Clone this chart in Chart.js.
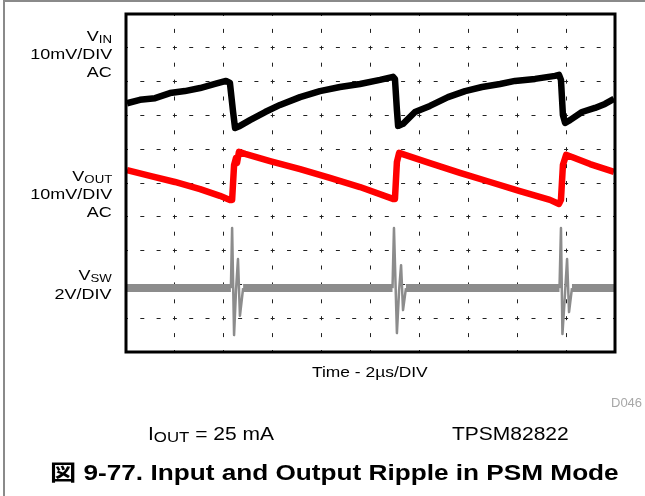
<!DOCTYPE html>
<html>
<head>
<meta charset="utf-8">
<script src="https://cdn.jsdelivr.net/npm/chart.js@4.4.0/dist/chart.umd.min.js"></script>
<style>
  body { margin: 0; background: #fff; }
  #wrap { position: relative; width: 645px; height: 496px; overflow: hidden;
    font-family: "Liberation Sans", Arial, "Noto Sans CJK JP", sans-serif; color: #000; }
  #frame { position: absolute; left: 3px; top: 0; width: 700px; height: 600px;
    border-top: 2px solid #8a8a8a; border-left: 2px solid #8a8a8a; }
  canvas { position: absolute; left: 0; top: 0; }
  .lbl { position: absolute; white-space: nowrap; line-height: 1; }
  .r { right: 533px; transform: scaleX(1.2); transform-origin: right; font-size: 15px; }
  .s { position: relative; top: 2px; font-size: 11px; }
</style>
</head>
<body>
<div id="wrap">
  <div id="frame"></div>
  <canvas id="chart" width="645" height="496"></canvas>

  <div class="lbl r" style="top:28px">V<span class="s">IN</span></div>
  <div class="lbl r" style="top:46px">10mV/DIV</div>
  <div class="lbl r" style="top:64px">AC</div>

  <div class="lbl r" style="top:168px">V<span class="s">OUT</span></div>
  <div class="lbl r" style="top:186px">10mV/DIV</div>
  <div class="lbl r" style="top:204px">AC</div>

  <div class="lbl r" style="top:267px">V<span class="s">SW</span></div>
  <div class="lbl r" style="top:286px">2V/DIV</div>

  <div class="lbl" style="left:312px; top:364px; font-size:15px; transform:scaleX(1.16); transform-origin:left;">Time - 2µs/DIV</div>
  <div class="lbl" style="left:611px; top:396px; font-size:13px; color:#a8a8a8;">D046</div>

  <div class="lbl" style="left:148px; top:426px; font-size:17.5px; transform:scaleX(1.2); transform-origin:left;">I<span style="position:relative; top:2px; font-size:14px;">OUT</span> = 25 mA</div>
  <div class="lbl" style="left:452px; top:426px; font-size:17.5px; transform:scaleX(1.2); transform-origin:left;">TPSM82822</div>

  <div class="lbl" style="left:50px; top:462px; font-size:22px; font-weight:bold; transform:scaleX(1.19); transform-origin:left;">図 9-77. Input and Output Ripple in PSM Mode</div>
</div>

<script>
// time in µs (2 µs per division), level in screen divisions (0 = bottom, 10 = top)
const vinTime = [0.04, 0.57, 1.19, 1.80, 2.41, 3.03, 3.64, 4.09, 4.25, 4.38, 4.46, 4.66, 5.07, 5.69, 6.30, 7.12, 7.93, 8.75, 9.57, 10.39,
  10.92, 11.00, 11.08, 11.13, 11.33, 11.82, 12.43, 13.17, 13.87, 14.56, 15.30, 15.91, 16.73, 17.55, 17.71, 17.79, 17.87, 17.96, 18.16, 18.65,
  19.18, 19.59, 19.96];
const vinLevel = [7.36, 7.46, 7.51, 7.66, 7.72, 7.81, 7.93, 8.02, 7.96, 7.10, 6.63, 6.69, 6.86, 7.10, 7.31, 7.54, 7.72, 7.84, 7.93, 8.05,
  8.14, 8.08, 7.16, 6.69, 6.75, 7.10, 7.28, 7.54, 7.72, 7.84, 7.93, 8.02, 8.08, 8.17, 8.20, 8.05, 7.01, 6.78, 6.86, 7.10,
  7.22, 7.34, 7.49];

const voutTime = [0.04, 0.98, 2.00, 3.03, 3.84, 4.25, 4.34, 4.42, 4.50, 4.54, 4.62, 4.87, 5.89, 7.12, 8.34, 9.57, 10.92, 11.00, 11.08, 11.17,
  11.41, 12.43, 13.66, 14.89, 16.11, 17.34, 17.71, 17.79, 17.87, 18.00, 18.24, 18.98, 19.96];
const voutLevel = [5.38, 5.21, 5.03, 4.82, 4.62, 4.50, 4.50, 5.53, 5.74, 5.59, 5.92, 5.86, 5.65, 5.41, 5.15, 4.88, 4.53, 4.53, 5.62, 5.89,
  5.83, 5.59, 5.30, 5.03, 4.76, 4.50, 4.38, 4.50, 5.53, 5.83, 5.77, 5.56, 5.33];

const vswTime = [0.04, 4.29, 4.34, 4.42, 4.50, 4.58, 4.66, 4.79, 10.90, 10.96, 11.08, 11.17, 11.25, 11.33, 11.45,
  17.73, 17.79, 17.85, 17.96, 18.04, 18.12, 18.24, 19.96];
const vswLevel = [1.89, 1.89, 3.67, 0.50, 1.83, 2.75, 1.07, 1.89, 1.89, 3.67, 0.56, 1.83, 2.57, 1.24, 1.89,
  1.89, 3.67, 0.53, 1.78, 2.75, 1.18, 1.89, 1.89];

function toPoints(xs, ys) {
  return xs.map((x, i) => ({ x: x, y: ys[i] }));
}

// thick black border round the scope screen
const screenFrame = {
  id: 'screenFrame',
  afterDraw(chart) {
    const { ctx, chartArea: a } = chart;
    ctx.save();
    ctx.strokeStyle = '#000';
    ctx.lineWidth = 3;
    ctx.strokeRect(a.left, a.top, a.right - a.left, a.bottom - a.top);
    ctx.restore();
  }
};

const ctx = document.getElementById('chart').getContext('2d');
new Chart(ctx, {
  type: 'line',
  data: {
    datasets: [
      {
        data: toPoints(vswTime, vswLevel),
        borderColor: '#8c8c8c',
        borderWidth: 8,
        // the switching spikes are drawn thin, the flat trace is a wide noisy band
        segment: {
          borderWidth: (c) => Math.abs(c.p1.parsed.y - c.p0.parsed.y) > 0.3 ? 2.5 : 8
        }
      },
      { data: toPoints(voutTime, voutLevel), borderColor: '#ff0000', borderWidth: 6.5 },
      { data: toPoints(vinTime, vinLevel), borderColor: '#000000', borderWidth: 6.5 }
    ]
  },
  options: {
    responsive: false,
    animation: false,
    elements: {
      point: { radius: 0 },
      line: { tension: 0, borderJoinStyle: 'round', borderCapStyle: 'butt' }
    },
    layout: { padding: { left: 126, top: 14, right: 30, bottom: 144 } },
    plugins: { legend: { display: false }, tooltip: { enabled: false } },
    scales: {
      x: {
        type: 'linear', min: 0, max: 20,
        ticks: { display: false, stepSize: 2 },
        grid: { color: '#222', lineWidth: 1, drawTicks: false },
        border: { display: false, dash: [4, 12.9], dashOffset: 2 }
      },
      y: {
        type: 'linear', min: 0, max: 10,
        ticks: { display: false, stepSize: 1 },
        grid: { color: '#222', lineWidth: 1, drawTicks: false },
        border: { display: false, dash: [4, 12.3], dashOffset: 2 }
      }
    }
  },
  plugins: [screenFrame]
});
</script>
</body>
</html>
